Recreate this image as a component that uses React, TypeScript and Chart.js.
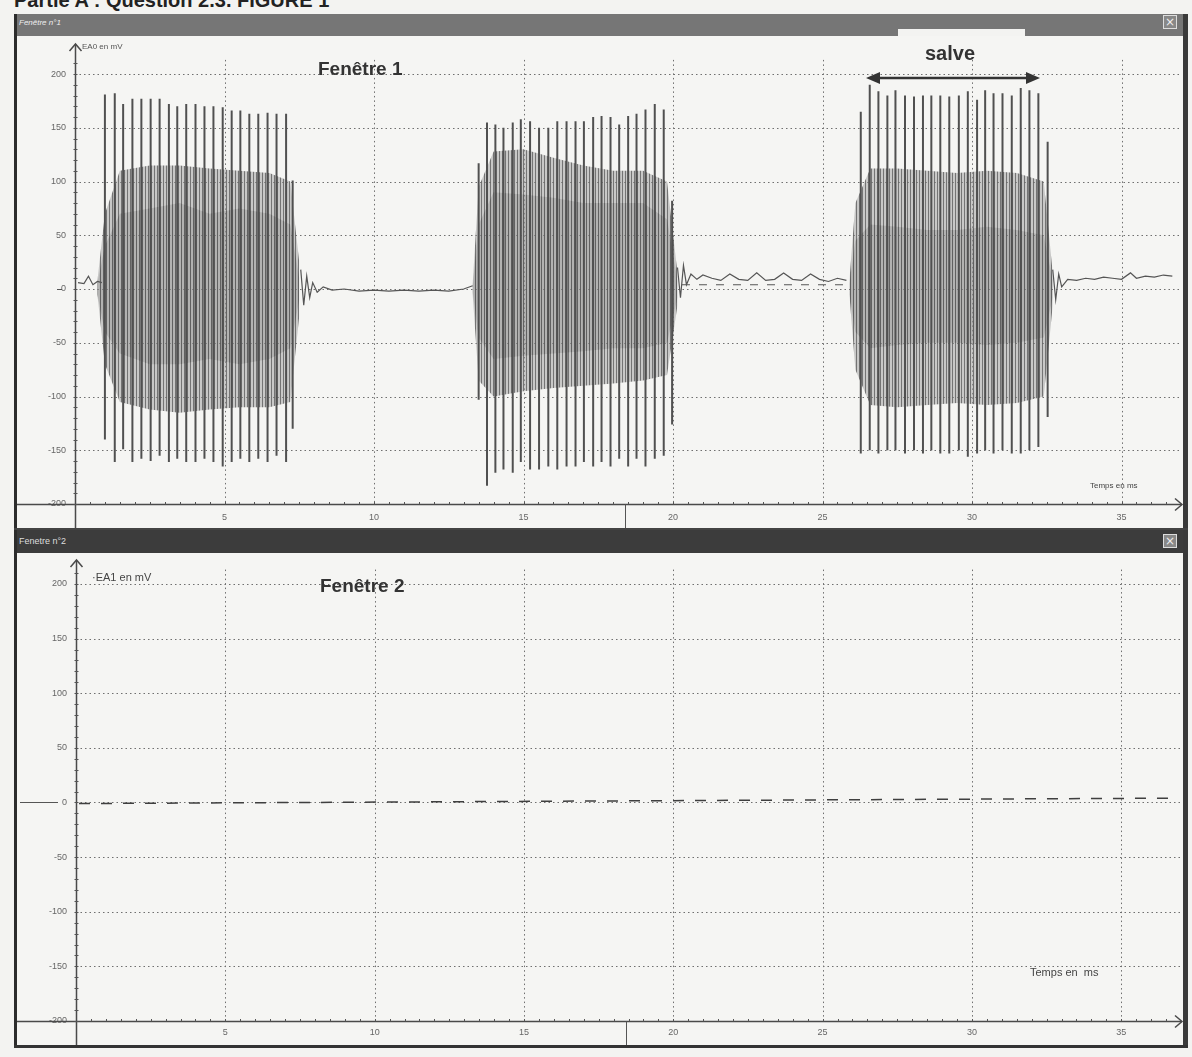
import React, { useEffect, useRef } from "react";
import { Chart, registerables } from "chart.js";
Chart.register(...registerables);

// ---------- tick labels ----------
const xTicks = [5, 10, 15, 20, 25, 30, 35];
const yTicks = [200, 150, 100, 50, 0, -50, -100, -150, -200];

// ---------- burst spikes (time ms, max mV, min mV) ----------
const burst1SpikeT = [1.0, 1.33, 1.61, 1.92, 2.22, 2.53, 2.83, 3.14, 3.42, 3.72, 4.03, 4.33, 4.63, 4.94, 5.24, 5.53, 5.83, 6.13, 6.44, 6.74, 7.06, 7.28];
const burst1SpikeMax = [181, 182, 172, 177, 177, 177, 177, 172, 170, 172, 172, 170, 170, 169, 166, 166, 163, 163, 164, 163, 163, 101];
const burst1SpikeMin = [-140, -161, -149, -161, -158, -160, -155, -161, -158, -161, -161, -158, -161, -165, -161, -158, -161, -158, -161, -155, -161, -130];

const burst2SpikeT = [13.5, 13.78, 14.06, 14.33, 14.64, 14.91, 15.22, 15.52, 15.83, 16.13, 16.44, 16.74, 17.02, 17.33, 17.61, 17.91, 18.2, 18.5, 18.78, 19.08, 19.39, 19.69, 19.97];
const burst2SpikeMax = [117, 155, 153, 150, 155, 158, 156, 150, 150, 156, 156, 156, 156, 160, 161, 160, 153, 161, 163, 167, 172, 167, 82];
const burst2SpikeMin = [-103, -183, -171, -168, -171, -161, -168, -168, -165, -168, -165, -165, -161, -165, -161, -165, -158, -165, -158, -165, -158, -155, -126];

const burst3SpikeT = [26.28, 26.58, 26.87, 27.17, 27.44, 27.76, 28.06, 28.36, 28.64, 28.94, 29.24, 29.56, 29.86, 30.17, 30.44, 30.72, 31.02, 31.33, 31.63, 31.92, 32.22, 32.53];
const burst3SpikeMax = [165, 190, 184, 180, 185, 180, 179, 180, 180, 180, 179, 180, 184, 176, 185, 182, 182, 180, 187, 185, 182, 137];
const burst3SpikeMin = [-153, -150, -153, -150, -150, -153, -150, -153, -150, -153, -153, -150, -156, -153, -150, -153, -150, -153, -153, -150, -147, -119];

// ---------- dense oscillation envelopes ----------
const burst1EnvT = [0.75, 1.0, 1.5, 2.5, 3.5, 4.5, 5.5, 6.5, 7.2, 7.5];
const burst1OuterHi = [8, 70, 110, 115, 115, 112, 110, 108, 100, 25];
const burst1OuterLo = [-5, -70, -105, -112, -115, -112, -110, -110, -105, -25];
const burst1InnerHi = [5, 40, 70, 75, 80, 70, 75, 70, 60, 10];
const burst1InnerLo = [-5, -40, -60, -70, -70, -65, -70, -65, -55, -10];

const burst2EnvT = [13.3, 13.5, 14.0, 15.0, 16.0, 17.0, 18.0, 19.0, 19.8, 20.15];
const burst2OuterHi = [5, 95, 128, 130, 122, 115, 110, 110, 100, 15];
const burst2OuterLo = [-5, -85, -100, -95, -92, -90, -88, -85, -80, -15];
const burst2InnerHi = [3, 60, 90, 88, 85, 80, 80, 80, 65, 8];
const burst2InnerLo = [-3, -45, -65, -62, -60, -58, -55, -55, -50, -8];

const burst3EnvT = [25.9, 26.1, 26.6, 27.5, 28.5, 29.5, 30.5, 31.5, 32.4, 32.7];
const burst3OuterHi = [8, 80, 112, 112, 110, 108, 110, 108, 100, 15];
const burst3OuterLo = [-5, -75, -108, -110, -108, -106, -108, -106, -100, -15];
const burst3InnerHi = [5, 45, 60, 58, 55, 55, 58, 55, 50, 8];
const burst3InnerLo = [-5, -40, -55, -52, -50, -50, -52, -50, -45, -8];

// ---------- quiet trace between bursts ----------
const quietAT = [0.1, 0.3, 0.45, 0.6, 0.75, 0.9];
const quietAV = [6, 5, 12, 4, 7, 6];
const quietBT = [7.55, 7.65, 7.75, 7.85, 7.95, 8.1, 8.3, 8.6, 9.0, 9.5, 10.0, 10.5, 11.0, 11.5, 12.0, 12.5, 13.0, 13.3];
const quietBV = [18, -15, 12, -8, 6, -3, 2, -1, 0, -2, -1, -2, -1, -2, -1, -2, 0, 3];
const quietCT = [20.15, 20.25, 20.35, 20.45, 20.6, 20.8, 21.0, 21.3, 21.6, 21.9, 22.2, 22.5, 22.8, 23.1, 23.4, 23.7, 24.0, 24.3, 24.6, 24.9, 25.2, 25.5, 25.8];
const quietCV = [20, -8, 22, 4, 14, 9, 13, 10, 8, 14, 9, 8, 15, 8, 9, 15, 9, 8, 14, 9, 7, 10, 8];
const quietDT = [32.7, 32.8, 32.9, 33.0, 33.2, 33.5, 33.8, 34.1, 34.4, 34.7, 35.0, 35.3, 35.5, 35.8, 36.1, 36.4, 36.7];
const quietDV = [18, -10, 14, 2, 9, 8, 10, 9, 11, 10, 9, 15, 10, 12, 11, 13, 12];

// ---------- dashed reference lines ----------
const ref1T = [20.3, 25.9];
const ref1V = [4, 4];
const ref2T = [0.1, 36.8];
const ref2V = [-1, 4];

const pts = (ts: number[], vs: number[]) => ts.map((t, i) => ({ x: t, y: vs[i] }));
const gapAfter = (ts: number[], vs: number[]) => [...pts(ts, vs), { x: ts[ts.length - 1], y: null }];

function spikePts(ts: number[], hi: number[], lo: number[]) {
  const out: any[] = [];
  ts.forEach((t, i) => {
    out.push({ x: t, y: lo[i] });
    out.push({ x: t, y: hi[i] });
    out.push({ x: t, y: null });
  });
  return out;
}

function makePattern(bg: string, fg: string, period: number) {
  const c = document.createElement("canvas");
  c.width = period;
  c.height = 2;
  const g = c.getContext("2d")!;
  g.fillStyle = bg;
  g.fillRect(0, 0, period, 2);
  g.fillStyle = fg;
  g.fillRect(0, 0, 1, 2);
  return g.createPattern(c, "repeat")!;
}

type Geo = {
  yWidth: number;
  xHeight: number;
  padTop: number;
  padRight: number;
  arrowTop: number;
  xPad: number;
};

function decorPlugin(geo: Geo) {
  return {
    id: "decor",
    beforeDraw(chart: any) {
      const { ctx, chartArea } = chart;
      const x = chart.scales.x;
      const y = chart.scales.y;
      ctx.save();
      ctx.strokeStyle = "#6f6f6f";
      ctx.lineWidth = 1;
      ctx.setLineDash([1.5, 3]);
      xTicks.forEach((v) => {
        const px = Math.round(x.getPixelForValue(v)) + 0.5;
        ctx.beginPath();
        ctx.moveTo(px, chartArea.top + 2);
        ctx.lineTo(px, chartArea.bottom);
        ctx.stroke();
      });
      yTicks.filter((v) => v > -200).forEach((v) => {
        const py = Math.round(y.getPixelForValue(v)) + 0.5;
        ctx.beginPath();
        ctx.moveTo(chartArea.left, py);
        ctx.lineTo(chartArea.right, py);
        ctx.stroke();
      });
      ctx.restore();
    },
    afterDraw(chart: any) {
      const { ctx, width, height } = chart;
      const x = chart.scales.x;
      const y = chart.scales.y;
      const ax = Math.round(x.getPixelForValue(0)) + 0.5;
      const ay = Math.round(y.getPixelForValue(-200)) + 0.5;
      ctx.save();
      ctx.strokeStyle = "#4a4a4a";
      ctx.lineWidth = 1.5;
      ctx.setLineDash([]);
      // y axis
      ctx.beginPath();
      ctx.moveTo(ax, geo.arrowTop);
      ctx.lineTo(ax, height);
      ctx.stroke();
      ctx.beginPath();
      ctx.moveTo(ax - 6, geo.arrowTop + 7);
      ctx.lineTo(ax, geo.arrowTop);
      ctx.lineTo(ax + 6, geo.arrowTop + 7);
      ctx.stroke();
      // x axis
      ctx.beginPath();
      ctx.moveTo(0, ay);
      ctx.lineTo(width - 2, ay);
      ctx.stroke();
      ctx.beginPath();
      ctx.moveTo(width - 9, ay - 6);
      ctx.lineTo(width - 2, ay);
      ctx.lineTo(width - 9, ay + 6);
      ctx.stroke();
      // minor ticks
      ctx.lineWidth = 1;
      ctx.strokeStyle = "#555";
      for (let v = -200; v <= 210; v += 10) {
        const py = Math.round(y.getPixelForValue(v)) + 0.5;
        ctx.beginPath();
        ctx.moveTo(ax - 2, py);
        ctx.lineTo(ax + 2, py);
        ctx.stroke();
      }
      for (let t = 0.5; t < 36.8; t += 0.5) {
        const px = Math.round(x.getPixelForValue(t)) + 0.5;
        ctx.beginPath();
        ctx.moveTo(px, ay - 2.5);
        ctx.lineTo(px, ay);
        ctx.stroke();
      }
      // separator in label row
      const sx = Math.round(x.getPixelForValue(18.4)) + 0.5;
      ctx.beginPath();
      ctx.moveTo(sx, ay);
      ctx.lineTo(sx, height);
      ctx.stroke();
      ctx.restore();
    },
  };
}

function baseOptions(geo: Geo, xmax: number) {
  return {
    responsive: false,
    maintainAspectRatio: false,
    animation: false as const,
    layout: { padding: { top: geo.padTop, right: geo.padRight, left: 0, bottom: 0 } },
    plugins: {
      legend: { display: false },
      tooltip: { enabled: false },
      filler: { drawTime: "beforeDatasetsDraw" },
    },
    elements: { point: { radius: 0 }, line: { tension: 0 } },
    scales: {
      x: {
        type: "linear",
        min: 0,
        max: xmax,
        grid: { display: false, drawTicks: false },
        border: { display: false },
        afterBuildTicks: (s: any) => {
          s.ticks = xTicks.map((v) => ({ value: v }));
        },
        afterFit: (s: any) => {
          s.height = geo.xHeight;
        },
        ticks: {
          autoSkip: false,
          maxRotation: 0,
          padding: geo.xPad,
          color: "#666",
          font: { family: "'Liberation Sans', Arial, sans-serif", size: 9 },
        },
      },
      y: {
        type: "linear",
        min: -200,
        max: 215,
        grid: { display: false, drawTicks: false },
        border: { display: false },
        afterBuildTicks: (s: any) => {
          s.ticks = yTicks.map((v) => ({ value: v }));
        },
        afterFit: (s: any) => {
          s.width = geo.yWidth;
        },
        ticks: {
          autoSkip: false,
          padding: 9,
          color: "#666",
          font: { family: "'Liberation Sans', Arial, sans-serif", size: 9 },
        },
      },
    },
  };
}

const geo1: Geo = { yWidth: 59, xHeight: 26, padTop: 21.9, padRight: 2.7, arrowTop: 8, xPad: 8 };
const geo2: Geo = { yWidth: 60, xHeight: 24, padTop: 14.6, padRight: 3, arrowTop: 7, xPad: 6 };

function Window1Chart() {
  const ref = useRef<HTMLCanvasElement>(null);
  useEffect(() => {
    const outerPat = makePattern("rgba(155,155,155,0.5)", "rgba(80,80,80,0.7)", 3);
    const innerPat = makePattern("rgba(95,95,95,0.3)", "rgba(55,55,55,0.55)", 3);
    const env = (t: number[], hi: number[], lo: number[], pat: any) => [
      { data: pts(t, lo), borderWidth: 0, borderColor: "transparent", pointRadius: 0, fill: false },
      { data: pts(t, hi), borderWidth: 0, borderColor: "transparent", pointRadius: 0, fill: "-1", backgroundColor: pat },
    ];
    const spikeStyle = { borderColor: "#505050", borderWidth: 2, pointRadius: 0, spanGaps: false, fill: false };
    const datasets: any[] = [
      { data: spikePts(burst1SpikeT, burst1SpikeMax, burst1SpikeMin), ...spikeStyle },
      { data: spikePts(burst2SpikeT, burst2SpikeMax, burst2SpikeMin), ...spikeStyle },
      { data: spikePts(burst3SpikeT, burst3SpikeMax, burst3SpikeMin), ...spikeStyle },
      {
        data: [...gapAfter(quietAT, quietAV), ...gapAfter(quietBT, quietBV), ...gapAfter(quietCT, quietCV), ...pts(quietDT, quietDV)],
        borderColor: "#555",
        borderWidth: 1.2,
        pointRadius: 0,
        spanGaps: false,
        fill: false,
      },
      { data: pts(ref1T, ref1V), borderColor: "#555", borderWidth: 1.1, borderDash: [8, 9], pointRadius: 0, fill: false },
      ...env(burst1EnvT, burst1OuterHi, burst1OuterLo, outerPat),
      ...env(burst1EnvT, burst1InnerHi, burst1InnerLo, innerPat),
      ...env(burst2EnvT, burst2OuterHi, burst2OuterLo, outerPat),
      ...env(burst2EnvT, burst2InnerHi, burst2InnerLo, innerPat),
      ...env(burst3EnvT, burst3OuterHi, burst3OuterLo, outerPat),
      ...env(burst3EnvT, burst3InnerHi, burst3InnerLo, innerPat),
    ];
    const chart = new Chart(ref.current!, {
      type: "line",
      data: { datasets },
      options: baseOptions(geo1, 37) as any,
      plugins: [decorPlugin(geo1)],
    });
    return () => chart.destroy();
  }, []);
  return <canvas ref={ref} width={1168} height={494} style={{ position: "absolute", left: 16, top: 36 }} />;
}

function Window2Chart() {
  const ref = useRef<HTMLCanvasElement>(null);
  useEffect(() => {
    const chart = new Chart(ref.current!, {
      type: "line",
      data: {
        datasets: [
          { data: pts(ref2T, ref2V), borderColor: "#3f3f3f", borderWidth: 1.5, borderDash: [11, 11], pointRadius: 0, fill: false },
        ],
      },
      options: baseOptions(geo2, 37) as any,
      plugins: [decorPlugin(geo2)],
    });
    return () => chart.destroy();
  }, []);
  return <canvas ref={ref} width={1168} height={492} style={{ position: "absolute", left: 16, top: 553 }} />;
}

const abs = (l: number, t: number, w: number, h: number, extra: any = {}) => ({
  position: "absolute" as const,
  left: l,
  top: t,
  width: w,
  height: h,
  ...extra,
});

function CloseBtn({ top }: { top: number }) {
  return (
    <div
      style={abs(1163, top, 14, 14, {
        border: "1px solid #ddd",
        background: "#888",
        color: "#eee",
        fontSize: 12,
        lineHeight: "13px",
        textAlign: "center",
        boxSizing: "border-box",
        fontFamily: "'DejaVu Sans', sans-serif",
      })}
    >
      ×
    </div>
  );
}

export default function App() {
  const sans = "'Liberation Sans', Arial, sans-serif";
  return (
    <div style={abs(0, 0, 1192, 1057, { background: "#f3f3f1", overflow: "hidden", fontFamily: sans })}>
      {/* header (cut off) */}
      <div style={abs(14, -13, 700, 26, { fontWeight: "bold", fontSize: 20, color: "#222", lineHeight: "26px" })}>
        Partie A : Question 2.3. FIGURE 1
      </div>

      {/* window 1 */}
      <div style={abs(14, 14, 1174, 22, { background: "#767676" })} />
      <div style={abs(898, 29, 127, 7, { background: "#f3f3f1" })} />
      <div style={abs(19, 17, 120, 12, { color: "#eee", fontSize: 8, fontStyle: "italic", lineHeight: "12px" })}>
        Fenêtre n°1
      </div>
      <CloseBtn top={15} />
      <div style={abs(17, 36, 1166, 494, { background: "#f5f5f3" })} />
      <Window1Chart />
      <div style={abs(82, 41, 100, 12, { fontSize: 8, color: "#555", lineHeight: "12px" })}>EA0 en mV</div>
      <div style={abs(1090, 480, 90, 12, { fontSize: 8, color: "#444", lineHeight: "12px" })}>Temps en ms</div>
      <div style={abs(318, 56, 200, 26, { fontSize: 19, fontWeight: "bold", color: "#333", lineHeight: "26px" })}>
        Fenêtre 1
      </div>
      <div style={abs(900, 40, 100, 26, { fontSize: 20, fontWeight: "bold", color: "#333", lineHeight: "26px", textAlign: "center" })}>
        salve
      </div>
      <svg style={abs(860, 68, 190, 20)} width={190} height={20}>
        <line x1={14} y1={10} x2={170} y2={10} stroke="#333" strokeWidth={2.5} />
        <polygon points="6,10 20,4 20,16" fill="#333" />
        <polygon points="180,10 166,4 166,16" fill="#333" />
      </svg>
      <div style={abs(57, 289, 5, 1, { background: "#555" })} />

      {/* window 2 */}
      <div style={abs(14, 530, 1174, 23, { background: "#3c3c3c" })} />
      <div style={abs(19, 535, 120, 12, { color: "#ddd", fontSize: 9, lineHeight: "12px" })}>Fenetre n°2</div>
      <CloseBtn top={534} />
      <div style={abs(17, 553, 1166, 492, { background: "#f5f5f3" })} />
      <Window2Chart />
      <div style={abs(92, 570, 120, 14, { fontSize: 11, color: "#444", lineHeight: "14px" })}>·EA1 en mV</div>
      <div style={abs(1030, 965, 100, 14, { fontSize: 11, color: "#444", lineHeight: "14px" })}>Temps en&nbsp; ms</div>
      <div style={abs(320, 573, 200, 26, { fontSize: 19, fontWeight: "bold", color: "#333", lineHeight: "26px" })}>
        Fenêtre 2
      </div>
      <div style={abs(20, 802, 38, 1, { background: "#555" })} />

      {/* frame borders */}
      <div style={abs(14, 14, 3, 1034, { background: "#2c2c2c" })} />
      <div style={abs(1183, 14, 5, 1034, { background: "#3a3a3a" })} />
      <div style={abs(14, 1045, 1174, 3, { background: "#333" })} />
      <div style={abs(14, 528, 1174, 2, { background: "#444" })} />
    </div>
  );
}
